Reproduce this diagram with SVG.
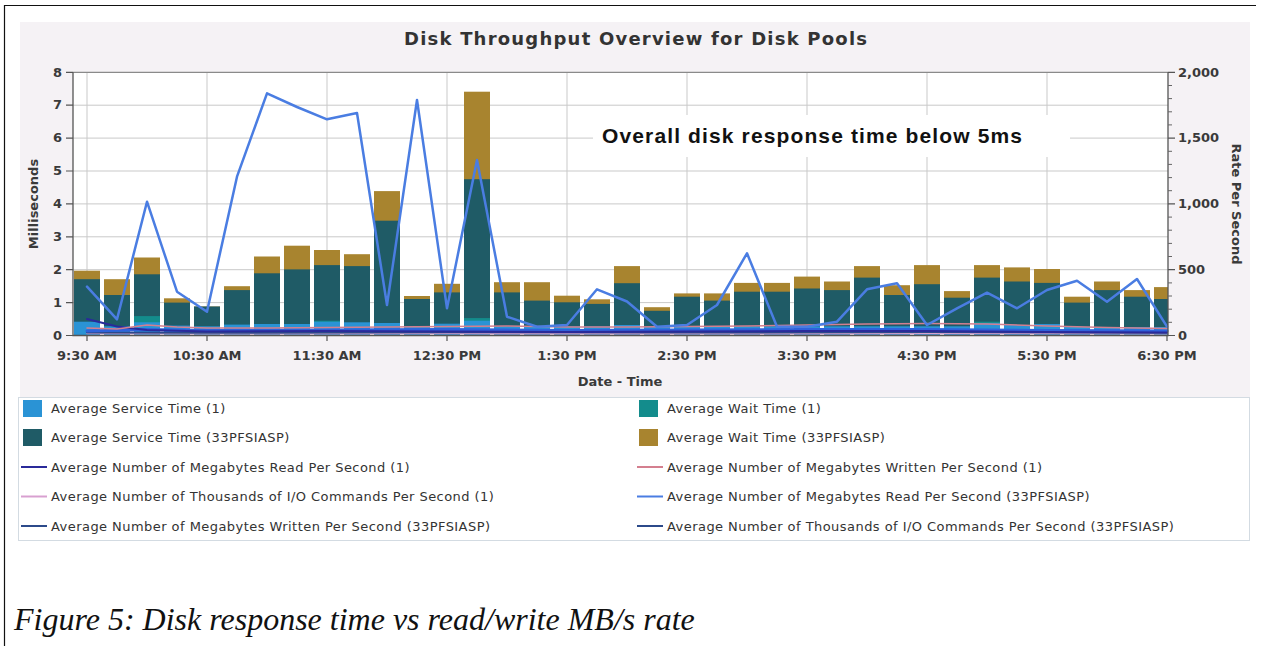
<svg xmlns="http://www.w3.org/2000/svg" width="1261" height="646" viewBox="0 0 1261 646">
<style>
.t{font-family:"DejaVu Sans",Verdana,sans-serif;fill:#333}
.tick{font-family:"DejaVu Sans",sans-serif;font-weight:bold;font-size:13px;fill:#3a3a3a}
.lg{font-family:"DejaVu Sans",sans-serif;font-size:13px;letter-spacing:0.45px;fill:#333}
.grid{stroke:#c9c9c9;stroke-width:1;fill:none}
.gold{fill:#a8842f}
.dteal{fill:#1f5b66}
.teal{fill:#138c8c}
.lblue{fill:#2a93d5}
.ln{fill:none;stroke-linejoin:round;stroke-linecap:round}
</style>
<rect x="0" y="0" width="1261" height="646" fill="#ffffff"/>
<path d="M4.5 646 V5.5 H1256" fill="none" stroke="#111" stroke-width="1.2"/>
<g id="chart-bg">
<rect x="20" y="22" width="1230" height="375" fill="#f5f2f5"/>
<rect x="73" y="72.3" width="1095" height="263.2" fill="#ffffff"/>
</g>
<g id="title"><text class="t" x="404" y="45" font-weight="bold" font-size="18" textLength="463" lengthAdjust="spacing">Disk Throughput Overview for Disk Pools</text></g>
<g id="grid">
<path class="grid" d="M73 302.6H1168M73 269.7H1168M73 236.8H1168M73 203.9H1168M73 171H1168M73 138.1H1168M73 105.2H1168"/>
<path class="grid" d="M87 72.3V335.5M207 72.3V335.5M327 72.3V335.5M447 72.3V335.5M567 72.3V335.5M687 72.3V335.5M807 72.3V335.5M927 72.3V335.5M1047 72.3V335.5"/>
</g>
<g id="annotation">
<rect x="593" y="115" width="477" height="42" fill="#ffffff"/>
<text x="602" y="143" font-family="'Liberation Sans',Arial,sans-serif" font-weight="bold" font-size="21" fill="#111" textLength="420" lengthAdjust="spacing">Overall disk response time below 5ms</text>
</g>
<g id="bars">
<g class="gold">
<rect x="74" y="270.7" width="26" height="64.8"/><rect x="104" y="279.2" width="26" height="56.3"/><rect x="134" y="257.5" width="26" height="78"/><rect x="164" y="298.3" width="26" height="37.2"/><rect x="194" y="306.5" width="26" height="29"/><rect x="224" y="286.2" width="26" height="49.3"/><rect x="254" y="256.5" width="26" height="79"/><rect x="284" y="245.7" width="26" height="89.8"/><rect x="314" y="250" width="26" height="85.5"/><rect x="344" y="254.2" width="26" height="81.3"/><rect x="374" y="191.1" width="26" height="144.4"/><rect x="404" y="296" width="26" height="39.5"/><rect x="434" y="283.8" width="26" height="51.7"/><rect x="464" y="91.7" width="26" height="243.8"/><rect x="494" y="282.2" width="26" height="53.3"/><rect x="524" y="282.2" width="26" height="53.3"/><rect x="554" y="295.7" width="26" height="39.8"/><rect x="584" y="299.3" width="26" height="36.2"/><rect x="614" y="266.1" width="26" height="69.4"/><rect x="644" y="307.2" width="26" height="28.3"/><rect x="674" y="293.4" width="26" height="42.1"/><rect x="704" y="293.4" width="26" height="42.1"/><rect x="734" y="282.9" width="26" height="52.6"/><rect x="764" y="282.9" width="26" height="52.6"/><rect x="794" y="276.6" width="26" height="58.9"/><rect x="824" y="281.5" width="26" height="54"/><rect x="854" y="266.1" width="26" height="69.4"/><rect x="884" y="285.2" width="26" height="50.3"/><rect x="914" y="265.1" width="26" height="70.4"/><rect x="944" y="291.1" width="26" height="44.4"/><rect x="974" y="265.1" width="26" height="70.4"/><rect x="1004" y="267.4" width="26" height="68.1"/><rect x="1034" y="269" width="26" height="66.5"/><rect x="1064" y="296.7" width="26" height="38.8"/><rect x="1094" y="281.5" width="26" height="54"/><rect x="1124" y="290.1" width="26" height="45.4"/><rect x="1154" y="287.1" width="14" height="48.4"/>
</g>
<g class="dteal">
<rect x="74" y="279.2" width="26" height="56.3"/><rect x="104" y="295" width="26" height="40.5"/><rect x="134" y="274.3" width="26" height="61.2"/><rect x="164" y="302.6" width="26" height="32.9"/><rect x="194" y="306.5" width="26" height="29"/><rect x="224" y="290.1" width="26" height="45.4"/><rect x="254" y="273.3" width="26" height="62.2"/><rect x="284" y="269.4" width="26" height="66.1"/><rect x="314" y="265.1" width="26" height="70.4"/><rect x="344" y="266.1" width="26" height="69.4"/><rect x="374" y="220.7" width="26" height="114.8"/><rect x="404" y="299" width="26" height="36.5"/><rect x="434" y="292.4" width="26" height="43.1"/><rect x="464" y="179.2" width="26" height="156.3"/><rect x="494" y="292.4" width="26" height="43.1"/><rect x="524" y="300.6" width="26" height="34.9"/><rect x="554" y="302.3" width="26" height="33.2"/><rect x="584" y="303.9" width="26" height="31.6"/><rect x="614" y="283.2" width="26" height="52.3"/><rect x="644" y="310.8" width="26" height="24.7"/><rect x="674" y="296.7" width="26" height="38.8"/><rect x="704" y="300.6" width="26" height="34.9"/><rect x="734" y="291.7" width="26" height="43.8"/><rect x="764" y="291.7" width="26" height="43.8"/><rect x="794" y="288.5" width="26" height="47"/><rect x="824" y="290.1" width="26" height="45.4"/><rect x="854" y="277.6" width="26" height="57.9"/><rect x="884" y="295" width="26" height="40.5"/><rect x="914" y="284.2" width="26" height="51.3"/><rect x="944" y="297.7" width="26" height="37.8"/><rect x="974" y="277.6" width="26" height="57.9"/><rect x="1004" y="281.5" width="26" height="54"/><rect x="1034" y="282.9" width="26" height="52.6"/><rect x="1064" y="302.6" width="26" height="32.9"/><rect x="1094" y="290.1" width="26" height="45.4"/><rect x="1124" y="296.7" width="26" height="38.8"/><rect x="1154" y="299" width="14" height="36.5"/>
</g>
<g class="teal">
<rect x="134" y="316.1" width="26" height="19.4"/><rect x="314" y="320.7" width="26" height="14.8"/><rect x="464" y="318.1" width="26" height="17.4"/><rect x="974" y="321.7" width="26" height="13.8"/>
</g>
<g class="lblue">
<rect x="74" y="321.7" width="26" height="13.8"/><rect x="104" y="326.3" width="26" height="9.2"/><rect x="134" y="322.3" width="26" height="13.2"/><rect x="164" y="325.6" width="26" height="9.9"/><rect x="194" y="326.3" width="26" height="9.2"/><rect x="224" y="324.6" width="26" height="10.9"/><rect x="254" y="324" width="26" height="11.5"/><rect x="284" y="324" width="26" height="11.5"/><rect x="314" y="321.7" width="26" height="13.8"/><rect x="344" y="322.3" width="26" height="13.2"/><rect x="374" y="323" width="26" height="12.5"/><rect x="404" y="326.3" width="26" height="9.2"/><rect x="434" y="323.7" width="26" height="11.8"/><rect x="464" y="320.7" width="26" height="14.8"/><rect x="494" y="326.3" width="26" height="9.2"/><rect x="524" y="326.3" width="26" height="9.2"/><rect x="554" y="326.3" width="26" height="9.2"/><rect x="584" y="326.3" width="26" height="9.2"/><rect x="614" y="325" width="26" height="10.5"/><rect x="644" y="327" width="26" height="8.5"/><rect x="674" y="326.3" width="26" height="9.2"/><rect x="704" y="326.3" width="26" height="9.2"/><rect x="734" y="326.3" width="26" height="9.2"/><rect x="764" y="326.3" width="26" height="9.2"/><rect x="794" y="326.3" width="26" height="9.2"/><rect x="824" y="326.3" width="26" height="9.2"/><rect x="854" y="326.3" width="26" height="9.2"/><rect x="884" y="326.3" width="26" height="9.2"/><rect x="914" y="326.3" width="26" height="9.2"/><rect x="944" y="326.3" width="26" height="9.2"/><rect x="974" y="323" width="26" height="12.5"/><rect x="1004" y="325" width="26" height="10.5"/><rect x="1034" y="324" width="26" height="11.5"/><rect x="1064" y="327" width="26" height="8.5"/><rect x="1094" y="327" width="26" height="8.5"/><rect x="1124" y="327" width="26" height="8.5"/><rect x="1154" y="327" width="14" height="8.5"/>
</g>
</g>
<g id="series-lines">
<polyline class="ln" stroke="#d8a0d0" stroke-width="1.5" points="87,333.5 207,333.8 447,333.6 687,333.8 927,333.5 1167,333.8"/>
<polyline class="ln" stroke="#2c4a8a" stroke-width="2" points="87,332.5 207,332.8 447,332.2 687,332.6 927,332 1167,332.8"/>
<polyline class="ln" stroke="#2f62dc" stroke-width="3" points="87,331 147,329.5 207,330.5 327,330 447,329.5 567,330.5 687,330 807,329.5 927,329.5 1047,330.5 1167,331"/>
<polyline class="ln" stroke="#2a2a9a" stroke-width="2" points="87,319 117,326.5 147,330 207,331.5 327,331 447,331.5 567,332 687,331.5 807,331 927,331 1047,332 1167,332.5"/>
<polyline class="ln" stroke="#d47f8f" stroke-width="1.5" points="87,328 117,329 147,325 177,327 207,328 267,328 327,327.5 387,327 447,326.5 507,326 567,327 627,327 687,326.5 747,326 807,325 867,324 927,323.5 987,324 1047,326 1107,327.5 1167,328.5"/>
<polyline class="ln" stroke="#4a7de2" stroke-width="2.5" points="87,286.7 117,319.3 147,201.7 177,291.7 207,311.7 237,176.7 267,93.3 297,107 327,119.3 357,113 387,305 417,100 447,308.3 477,160 507,316.7 537,326.7 567,325 597,289.3 627,301.5 657,326.7 687,325 717,305 747,253.3 777,326.7 807,326.7 837,321.7 867,289.3 897,283.3 927,325 957,308.3 987,292.7 1017,308.3 1047,290 1077,280.7 1107,301.7 1137,279 1167,326.7"/>
</g>
<g id="axes">
<path d="M73 72.3H1168" stroke="#8a8a8a" stroke-width="1.2" fill="none"/>
<path d="M73 72.3V335.5H1168V72.3" stroke="#555" stroke-width="1.3" fill="none"/>
<path d="M66 72.3H73M66 105.2H73M66 138.1H73M66 171H73M66 203.9H73M66 236.8H73M66 269.7H73M66 302.6H73M66 335.5H73" stroke="#555" stroke-width="1.2"/>
<path d="M87 335.5V341M207 335.5V341M327 335.5V341M447 335.5V341M567 335.5V341M687 335.5V341M807 335.5V341M927 335.5V341M1047 335.5V341M1167 335.5V341" stroke="#555" stroke-width="1.2"/>
<path d="M1168 72.3H1175M1168 138.1H1175M1168 203.9H1175M1168 269.7H1175M1168 335.5H1175" stroke="#555" stroke-width="1.2"/>
<path d="M1168 85.5H1172M1168 98.6H1172M1168 111.8H1172M1168 124.9H1172M1168 151.3H1172M1168 164.4H1172M1168 177.6H1172M1168 190.7H1172M1168 217.1H1172M1168 230.2H1172M1168 243.4H1172M1168 256.5H1172M1168 282.9H1172M1168 296H1172M1168 309.2H1172M1168 322.3H1172" stroke="#666" stroke-width="1"/>
<g class="tick" text-anchor="end">
<text x="62" y="76.5">8</text><text x="62" y="109.4">7</text><text x="62" y="142.3">6</text><text x="62" y="175.2">5</text><text x="62" y="208.1">4</text><text x="62" y="241">3</text><text x="62" y="273.9">2</text><text x="62" y="306.8">1</text><text x="62" y="339.7">0</text>
</g>
<g class="tick" text-anchor="start">
<text x="1178" y="76.5">2,000</text><text x="1178" y="142.3">1,500</text><text x="1178" y="208.1">1,000</text><text x="1178" y="273.9">500</text><text x="1178" y="339.7">0</text>
</g>
<g class="tick" text-anchor="middle">
<text x="87" y="360">9:30 AM</text><text x="207" y="360">10:30 AM</text><text x="327" y="360">11:30 AM</text><text x="447" y="360">12:30 PM</text><text x="567" y="360">1:30 PM</text><text x="687" y="360">2:30 PM</text><text x="807" y="360">3:30 PM</text><text x="927" y="360">4:30 PM</text><text x="1047" y="360">5:30 PM</text><text x="1167" y="360">6:30 PM</text>
</g>
<text class="tick" x="620" y="386" text-anchor="middle">Date - Time</text>
<text class="tick" transform="translate(38 204) rotate(-90)" text-anchor="middle">Milliseconds</text>
<text class="tick" transform="translate(1232 204) rotate(90)" text-anchor="middle" font-weight="normal">Rate Per Second</text>
</g>
<g id="legend">
<rect x="18.5" y="397.5" width="1231" height="143" fill="#ffffff" stroke="#d3dbe2" stroke-width="1"/>
<rect x="23" y="400" width="19" height="17" class="lblue"/>
<text class="lg" x="51" y="412.5">Average Service Time (1)</text>
<rect x="23" y="429" width="19" height="17" class="dteal"/>
<text class="lg" x="51" y="442">Average Service Time (33PFSIASP)</text>
<path d="M21 467H47" stroke="#2a2a9a" stroke-width="2"/>
<text class="lg" x="51" y="471.5">Average Number of Megabytes Read Per Second (1)</text>
<path d="M21 496.5H47" stroke="#d8a0d0" stroke-width="2"/>
<text class="lg" x="51" y="501">Average Number of Thousands of I/O Commands Per Second (1)</text>
<path d="M21 526H47" stroke="#2c4a8a" stroke-width="2"/>
<text class="lg" x="51" y="530.5">Average Number of Megabytes Written Per Second (33PFSIASP)</text>
<rect x="639" y="400" width="19" height="17" class="teal"/>
<text class="lg" x="667" y="412.5">Average Wait Time (1)</text>
<rect x="639" y="429" width="19" height="17" class="gold"/>
<text class="lg" x="667" y="442">Average Wait Time (33PFSIASP)</text>
<path d="M637 467H663" stroke="#d47f8f" stroke-width="2"/>
<text class="lg" x="667" y="471.5">Average Number of Megabytes Written Per Second (1)</text>
<path d="M637 496.5H663" stroke="#4a7de2" stroke-width="2"/>
<text class="lg" x="667" y="501">Average Number of Megabytes Read Per Second (33PFSIASP)</text>
<path d="M637 526H663" stroke="#2c4a8a" stroke-width="2"/>
<text class="lg" x="667" y="530.5">Average Number of Thousands of I/O Commands Per Second (33PFSIASP)</text>
</g>
<g id="caption">
<text x="14" y="630" font-family="'Liberation Serif','Times New Roman',serif" font-style="italic" font-size="32" fill="#111">Figure 5: Disk response time vs read/write MB/s rate</text>
</g>
</svg>
